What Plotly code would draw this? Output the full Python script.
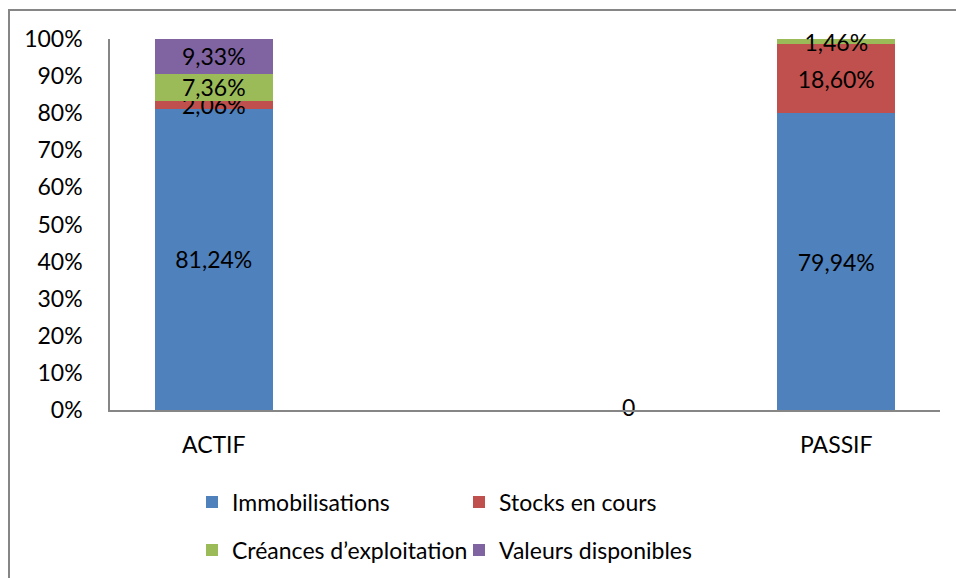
import plotly.graph_objects as go

categories = ["ACTIF", " ", "  ", "PASSIF"]
series_names = ["Immobilisations", "Stocks en cours", "Créances d’exploitation", "Valeurs disponibles"]
immobilisations = [81.24, None, 0, 79.94]
stocks = [2.06, None, 0, 18.60]
creances = [7.36, None, 0, 1.46]
valeurs = [9.33, None, 0, 0]
zero_label_category = "  "
zero_label_value = 0
y_ticks = [0, 10, 20, 30, 40, 50, 60, 70, 80, 90, 100]
y_tick_labels = [f"{v}%" for v in y_ticks]
colors = ["#4F81BD", "#C0504D", "#9BBB59", "#8064A2"]

FONT = "Lato"
FS = 23

def fmt(v):
    if v is None or v == 0:
        return ""
    return f"{v:.2f}".replace(".", ",") + "%"

fig = go.Figure()
all_series = [immobilisations, stocks, creances, valeurs]
legends = ["legend", "legend", "legend2", "legend2"]
for name, vals, col, lg in zip(series_names, all_series, colors, legends):
    fig.add_trace(go.Bar(
        x=categories, y=vals, name=name, marker=dict(color=col, line=dict(width=0)),
        text=[fmt(v) for v in vals], textposition="inside", insidetextanchor="middle",
        constraintext="none", textangle=0, cliponaxis=False,
        textfont=dict(family=FONT, size=FS, color="black"),
        legend=lg, hoverinfo="skip",
    ))

fig.add_trace(go.Scatter(
    x=[zero_label_category], y=[zero_label_value], mode="text", text=["0"],
    textfont=dict(family=FONT, size=FS, color="black"), showlegend=False,
    cliponaxis=False, hoverinfo="skip",
))

L, R, T, B = 110, 16, 39, 168
W, H = 956, 578
pw, ph = W - L - R, H - T - B

def px(x):
    return (x - L) / pw

def py(y):
    return (T + ph - y) / ph

leg_common = dict(orientation="h", xanchor="left", yanchor="middle", traceorder="normal",
                  entrywidth=222, entrywidthmode="pixels", font=dict(family=FONT, size=FS),
                  bgcolor="rgba(0,0,0,0)")

fig.update_layout(
    width=W, height=H, barmode="stack", bargap=0.43,
    margin=dict(l=L, r=R, t=T, b=B, autoexpand=False),
    paper_bgcolor="white", plot_bgcolor="white",
    font=dict(family=FONT, size=FS, color="black"),
    legend=dict(x=px(192), y=py(502), **leg_common),
    legend2=dict(x=px(192), y=py(550), **leg_common),
    xaxis=dict(showline=True, linecolor="#868686", linewidth=1.5, ticks="", showgrid=False,
               ticklabelstandoff=14, tickfont=dict(family=FONT, size=FS)),
    yaxis=dict(range=[0, 100], tickvals=y_ticks, ticktext=y_tick_labels, showgrid=False,
               showline=True, linecolor="#868686", linewidth=1.5, ticks="",
               ticklabelstandoff=21, tickfont=dict(family=FONT, size=FS), zeroline=False),
    shapes=[dict(type="rect", xref="paper", yref="paper",
                 x0=px(9), x1=px(962), y0=py(584), y1=py(10),
                 line=dict(color="#868686", width=2), fillcolor="rgba(0,0,0,0)", layer="below")],
    showlegend=True,
)

fig.write_html("out.html", config={"displayModeBar": False},
               post_script="document.body.style.margin='0';document.body.style.padding='0';")
